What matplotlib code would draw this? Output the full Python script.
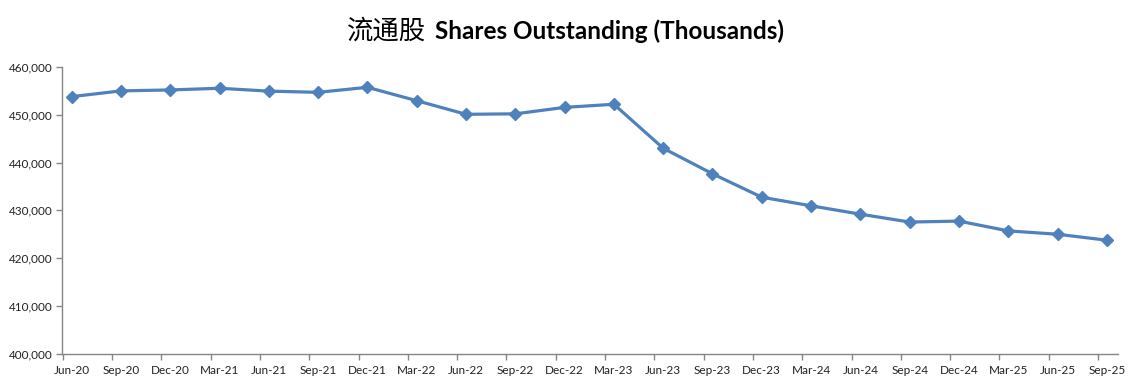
import matplotlib
matplotlib.use("Agg")
import matplotlib.pyplot as plt
from matplotlib.ticker import FuncFormatter, FixedLocator

# quarter labels and shares outstanding (thousands)
quarters = ["Jun-20", "Sep-20", "Dec-20", "Mar-21", "Jun-21", "Sep-21", "Dec-21",
            "Mar-22", "Jun-22", "Sep-22", "Dec-22", "Mar-23", "Jun-23", "Sep-23",
            "Dec-23", "Mar-24", "Jun-24", "Sep-24", "Dec-24", "Mar-25", "Jun-25",
            "Sep-25"]
shares = [453800, 455000, 455200, 455550, 454950, 454700, 455750,
          452950, 450100, 450200, 451550, 452200, 443000, 437650,
          432750, 430950, 429200, 427550, 427750, 425700, 425000,
          423750]

y_ticks = [400000, 410000, 420000, 430000, 440000, 450000, 460000]

blue = "#4F81BD"
grey = "#868686"

fig = plt.figure(figsize=(11.35, 3.83), dpi=100)
ax = fig.add_axes([62.3/1135, 1 - 353.7/383, (1117.7 - 62.3)/1135, (353.7 - 67)/383])

x = list(range(len(quarters)))
ax.plot(x, shares, color=blue, lw=2.3, marker="D", markersize=6.5,
        markerfacecolor=blue, markeredgecolor=blue)

ax.set_ylim(y_ticks[0], y_ticks[-1])
ax.set_xlim(-0.19, len(quarters) - 1 + 0.22)
ax.set_yticks(y_ticks)
ax.yaxis.set_major_formatter(FuncFormatter(lambda v, p: f"{int(v):,}"))

# ticks sit a little left of each point, labels centred on the points
ax.xaxis.set_major_locator(FixedLocator([i - 0.18 for i in x]))
ax.set_xticklabels([])
ax.xaxis.set_minor_locator(FixedLocator(x))
ax.set_xticklabels(quarters, minor=True)
ax.tick_params(axis="x", which="minor", length=0, pad=8)

for s in ["top", "right"]:
    ax.spines[s].set_visible(False)
for s in ["left", "bottom"]:
    ax.spines[s].set_color(grey)
    ax.spines[s].set_linewidth(1.0)

ax.tick_params(axis="both", which="major", color=grey, length=4, width=1, direction="out")
ax.tick_params(axis="y", pad=3)
for lab in ax.get_yticklabels() + ax.get_xticklabels(minor=True):
    lab.set_fontfamily("Lato")
    lab.set_fontsize(8.5)
    lab.set_color("#222222")

fig.text(426/1135, 1 - 31/383, "流通股", ha="right", va="center",
         fontsize=19, family=["Noto Sans CJK SC", "DejaVu Sans"])
fig.text(435/1135, 1 - 31/383, "Shares Outstanding (Thousands)", ha="left", va="center",
         fontsize=17.5, fontweight="bold", family="Lato")

fig.savefig("out.png", dpi=100)
